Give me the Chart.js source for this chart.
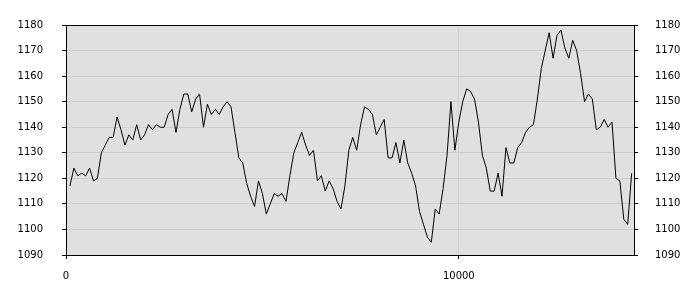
<!DOCTYPE html>
<html>
<head>
<meta charset="utf-8">
<script src="https://cdn.jsdelivr.net/npm/chart.js@4.4.0/dist/chart.umd.min.js"></script>
<style>
  html, body { margin: 0; padding: 0; background: #ffffff; }
  #wrap { width: 700px; height: 300px; }
</style>
</head>
<body>
<div id="wrap"><canvas id="c" width="700" height="300"></canvas></div>
<script>
// ---- data ----
const xValues = [100,200,300,400,500,600,700,800,900,1000,1100,1200,1300,1400,1500,1600,1700,1800,1900,2000,
  2100,2200,2300,2400,2500,2600,2700,2800,2900,3000,3100,3200,3300,3400,3500,3600,3700,3800,3900,4000,
  4100,4200,4300,4400,4500,4600,4700,4800,4900,5000,5100,5200,5300,5400,5500,5600,5700,5800,5900,6000,
  6100,6200,6300,6400,6500,6600,6700,6800,6900,7000,7100,7200,7300,7400,7500,7600,7700,7800,7900,8000,
  8100,8200,8300,8400,8500,8600,8700,8800,8900,9000,9100,9200,9300,9400,9500,9600,9700,9800,9900,10000,
  10100,10200,10300,10400,10500,10600,10700,10800,10900,11000,11100,11200,11300,11400,11500,11600,11700,11800,11900,12000,
  12100,12200,12300,12400,12500,12600,12700,12800,12900,13000,13100,13200,13300,13400,13500,13600,13700,13800,13900,14000,
  14100,14200,14300,14400];
const seriesValues = [1117,1124,1121,1122,1121,1124,1119,1120,1130,1133,1136,1136,1144,1139,1133,1137,1135,1141,1135,1137,
  1141,1139,1141,1140,1140,1145,1147,1138,1147,1153,1153,1146,1151,1153,1140,1149,1145,1147,1145,1148,
  1150,1148,1138,1128,1126,1118,1113,1109,1119,1114,1106,1110,1114,1113,1114,1111,1121,1130,1134,1138,
  1133,1129,1131,1119,1121,1115,1119,1116,1111,1108,1117,1131,1136,1131,1141,1148,1147,1145,1137,1140,
  1143,1128,1128,1134,1126,1135,1126,1122,1117,1107,1102,1097,1095,1108,1106,1116,1129,1150,1131,1142,
  1150,1155,1154,1151,1142,1129,1124,1115,1115,1122,1113,1132,1126,1126,1132,1134,1138,1140,1141,1151,
  1163,1170,1177,1167,1176,1178,1171,1167,1174,1170,1161,1150,1153,1151,1139,1140,1143,1140,1142,1120,
  1119,1104,1102,1122];
const xTickValues = [0, 10000];
const yMin = 1090, yMax = 1180, yStep = 10;
const xMin = 0, xMax = 14460;

const points = xValues.map((x, i) => ({ x: x, y: seriesValues[i] }));

const frame = {
  id: 'frame',
  beforeDraw(chart) {
    const a = chart.chartArea, ctx = chart.ctx;
    ctx.save();
    ctx.fillStyle = '#e0e0e0';
    ctx.fillRect(a.left, a.top, a.right - a.left, a.bottom - a.top);
    ctx.restore();
  },
  afterDatasetsDraw(chart) {
    const a = chart.chartArea, ctx = chart.ctx;
    ctx.save();
    ctx.strokeStyle = '#000000';
    ctx.lineWidth = 1;
    ctx.strokeRect(Math.round(a.left) + 0.5, Math.round(a.top) + 0.5,
      Math.round(a.right) - Math.round(a.left), Math.round(a.bottom) - Math.round(a.top));
    ctx.restore();
  }
};

const font = { family: 'DejaVu Sans', size: 10 };

new Chart(document.getElementById('c'), {
  type: 'line',
  data: {
    datasets: [{
      data: points,
      borderColor: '#000000',
      borderWidth: 1,
      pointRadius: 0,
      tension: 0,
      fill: false
    }]
  },
  options: {
    responsive: false,
    animation: false,
    devicePixelRatio: 1,
    layout: { padding: { top: 10, left: 0, right: 0, bottom: 0 } },
    plugins: { legend: { display: false }, tooltip: { enabled: false } },
    scales: {
      x: {
        type: 'linear',
        min: xMin, max: xMax,
        afterBuildTicks: s => { s.ticks = xTickValues.map(v => ({ value: v })); },
        afterFit: s => { s.height = 45; },
        grid: { color: '#d0d0d0', tickColor: '#000000', tickLength: 4, drawOnChartArea: true },
        border: { display: false },
        ticks: { color: '#000000', font: font, padding: 11, maxRotation: 0, autoSkip: false,
          callback: v => String(v) }
      },
      y: {
        position: 'left',
        min: yMin, max: yMax,
        afterFit: s => { s.width = 66; },
        grid: { color: '#d0d0d0', tickColor: '#000000', tickLength: 4 },
        border: { display: false },
        ticks: { stepSize: yStep, color: '#000000', font: font, padding: 19, autoSkip: false,
          callback: v => String(v) }
      },
      y2: {
        position: 'right',
        min: yMin, max: yMax,
        afterFit: s => { s.width = 66; },
        grid: { drawOnChartArea: false, tickColor: '#000000', tickLength: 4 },
        border: { display: false },
        ticks: { stepSize: yStep, color: '#000000', font: font, padding: 17, autoSkip: false,
          callback: v => String(v) }
      }
    }
  },
  plugins: [frame]
});
</script>
</body>
</html>
